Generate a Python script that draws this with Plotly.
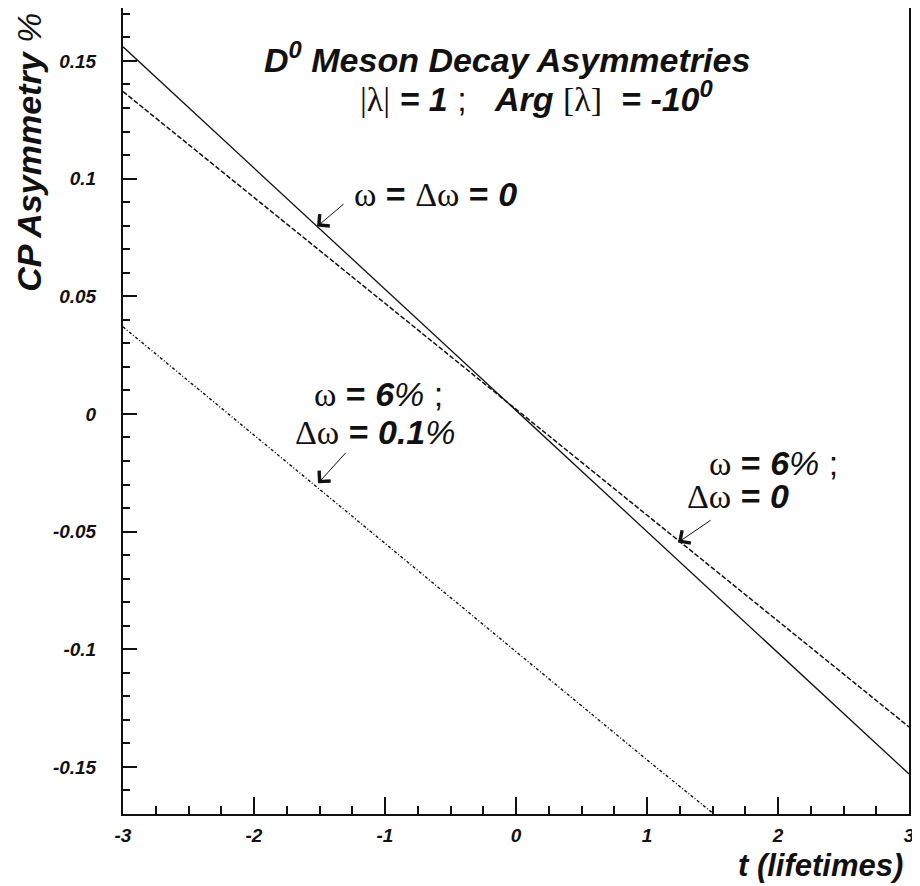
import plotly.graph_objects as go

# ---- data ----
t_no_mix = [-3, -2, -1, 0, 1, 2, 3]
asym_no_mix = [0.156, 0.1045, 0.053, 0.0015, -0.050, -0.1015, -0.153]      # omega = delta omega = 0 (solid)

t_w6_dw0 = [-3, -2, -1, 0, 1, 2, 3]
asym_w6_dw0 = [0.137, 0.092, 0.047, 0.002, -0.043, -0.088, -0.133]         # omega = 6%, delta omega = 0 (dashed)

t_w6_dw01 = [-3, -2, -1, 0, 1, 1.51]
asym_w6_dw01 = [0.037, -0.009, -0.055, -0.101, -0.147, -0.170]             # omega = 6%, delta omega = 0.1% (dash-dot)

x_tickvals = [-3, -2, -1, 0, 1, 2, 3]
x_ticktext = ["-3", "-2", "-1", "0", "1", "2", "3"]
y_tickvals = [-0.15, -0.1, -0.05, 0, 0.05, 0.1, 0.15]
y_ticktext = ["-0.15", "-0.1", "-0.05", "0", "0.05", "0.1", "0.15"]

SANS = "Liberation Sans, Arial, sans-serif"
INK = "#111111"


def g(s):
    return ("<span style='font-family:Liberation Serif, Times New Roman, serif;"
            "font-weight:normal;font-style:normal'>" + s + "</span>")


fig = go.Figure()
fig.add_trace(go.Scatter(x=t_no_mix, y=asym_no_mix, mode="lines",
                         line=dict(color=INK, width=1.3), showlegend=False))
fig.add_trace(go.Scatter(x=t_w6_dw0, y=asym_w6_dw0, mode="lines",
                         line=dict(color=INK, width=1.5, dash="5px,2px"), showlegend=False))
fig.add_trace(go.Scatter(x=t_w6_dw01, y=asym_w6_dw01, mode="lines",
                         line=dict(color=INK, width=1.4, dash="3px,2px,1px,2px"), showlegend=False))

tickfont = dict(family=SANS, size=19, color=INK, weight="bold", style="italic")

fig.update_xaxes(range=[-3, 3], showgrid=False, zeroline=False, automargin=False,
                 showline=True, linecolor=INK, linewidth=2, mirror=True,
                 ticks="inside", ticklen=17, tickwidth=2, tickcolor=INK,
                 tickvals=x_tickvals, ticktext=x_ticktext, tickfont=tickfont,
                 ticklabelstandoff=3,
                 minor=dict(ticks="inside", ticklen=8, tickwidth=2, tickcolor=INK,
                            dtick=0.25, tick0=0, showgrid=False))
fig.update_yaxes(range=[-0.17, 0.1725], showgrid=False, zeroline=False, automargin=False,
                 showline=True, linecolor=INK, linewidth=2, mirror=True,
                 ticks="inside", ticklen=14, tickwidth=2, tickcolor=INK,
                 tickvals=y_tickvals, ticktext=y_ticktext, tickfont=tickfont,
                 ticklabelstandoff=21,
                 minor=dict(ticks="inside", ticklen=7, tickwidth=2, tickcolor=INK,
                            dtick=0.01, tick0=0, showgrid=False))

ann = []
big = dict(family=SANS, size=34, color=INK)

# title
ann.append(dict(xref="paper", yref="paper", x=0.1768, y=0.938, xanchor="left", yanchor="middle",
                showarrow=False, font=big,
                text="<b><i>D<sup>0</sup> Meson Decay Asymmetries</i></b>"))
ann.append(dict(xref="paper", yref="paper", x=0.299, y=0.8897, xanchor="left", yanchor="middle",
                showarrow=False, font=big,
                text=g("|λ|") + " <b><i>= 1</i></b> ;&nbsp;&nbsp; <b><i>Arg</i></b>&nbsp;" + g("[λ]")
                     + "&nbsp; <b><i>= -10<sup>0</sup></i></b>"))

# curve labels
ann.append(dict(xref="paper", yref="paper", x=0.2913, y=0.7695, xanchor="left", yanchor="middle",
                showarrow=False, font=big,
                text=g("ω") + "<b> = </b>" + g("Δω") + "<b> = </b><b><i>0</i></b>"))
ann.append(dict(xref="paper", yref="paper", x=0.2405, y=0.5217, xanchor="left", yanchor="middle",
                showarrow=False, font=big,
                text=g("ω") + "<b> = </b><b><i>6</i></b><i>%</i> ;"))
ann.append(dict(xref="paper", yref="paper", x=0.2163, y=0.4734, xanchor="left", yanchor="middle",
                showarrow=False, font=big,
                text=g("Δω") + "<b> = </b><b><i>0.1</i></b><i>%</i>"))
ann.append(dict(xref="paper", yref="paper", x=0.743, y=0.435, xanchor="left", yanchor="middle",
                showarrow=False, font=big,
                text=g("ω") + "<b> = </b><b><i>6</i></b><i>%</i> ;"))
ann.append(dict(xref="paper", yref="paper", x=0.715, y=0.395, xanchor="left", yanchor="middle",
                showarrow=False, font=big,
                text=g("Δω") + "<b> = </b><b><i>0</i></b>"))

# arrows (tip -> curve, tail near label)
arrow_tips = [(-1.519, 0.0796), (-1.511, -0.0295), (1.237, -0.0546)]
arrow_tails = [(-1.305, 0.0897), (-1.29, -0.0159), (1.496, -0.0448)]
for (tx, ty), (sx, sy) in zip(arrow_tips, arrow_tails):
    ann.append(dict(x=tx, y=ty, ax=sx, ay=sy, xref="x", yref="y", axref="x", ayref="y",
                    text="", showarrow=True, arrowhead=4, arrowsize=3, arrowwidth=1,
                    arrowcolor=INK, standoff=0, startstandoff=0))

# axis titles
ann.append(dict(xref="paper", yref="paper", x=-0.1196, y=0.8216, xanchor="center", yanchor="middle",
                showarrow=False, textangle=-90, font=dict(family=SANS, size=34, color=INK),
                text="<b><i>CP Asymmetry</i></b> <i>%</i>"))
ann.append(dict(xref="paper", yref="paper", x=0.995, y=-0.0644, xanchor="right", yanchor="middle",
                showarrow=False, font=dict(family=SANS, size=31, color=INK),
                text="<b><i>t (lifetimes)</i></b>"))

# page body has an 8px margin, so the figure is sized to fit the 920x886 window
fig.update_layout(width=912, height=878, margin=dict(l=115, r=11, t=0, b=72),
                  paper_bgcolor="white", plot_bgcolor="white", annotations=ann,
                  font=dict(family=SANS, color=INK))

fig.write_html("out.html")
